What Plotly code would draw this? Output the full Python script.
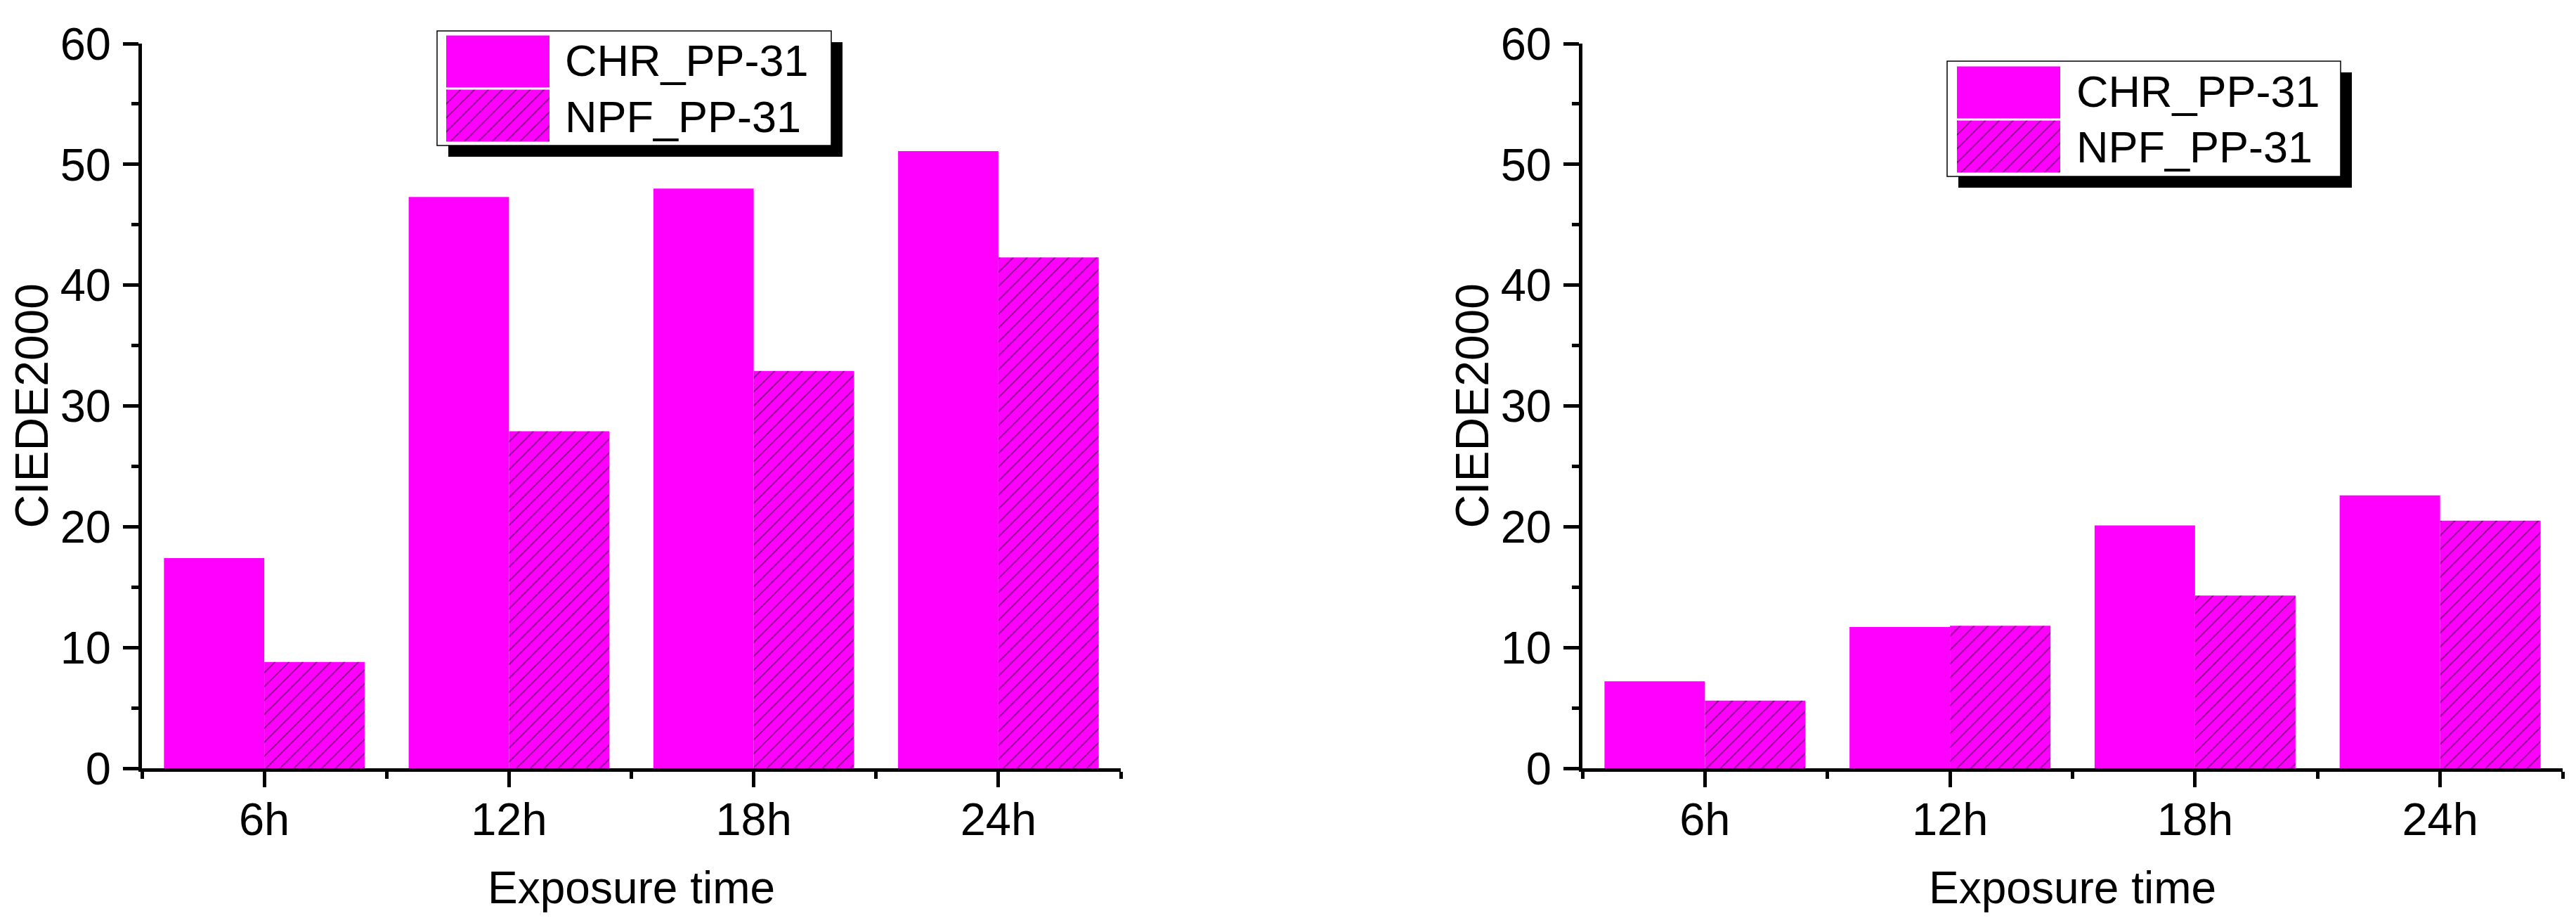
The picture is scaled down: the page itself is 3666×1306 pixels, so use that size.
import plotly.graph_objects as go

W, H = 3666, 1306

# ---- data ----
categories = ["6h", "12h", "18h", "24h"]
series_names = ["CHR_PP-31", "NPF_PP-31"]
left_chr = [17.4, 47.3, 48.0, 51.1]
left_npf = [8.8, 27.9, 32.9, 42.3]
right_chr = [7.2, 11.7, 20.1, 22.6]
right_npf = [5.6, 11.8, 14.3, 20.5]
y_ticks = [0, 10, 20, 30, 40, 50, 60]
x_title = "Exposure time"
y_title = "CIEDE2000"

FONT = "Liberation Sans, Arial, sans-serif"
MAGENTA = "#FF00FF"


def px(p):
    return p / W


def py(p):
    return 1 - p / H


hatch = dict(shape="/", fgcolor="black", bgcolor=MAGENTA, size=14,
             solidity=0.12, fillmode="overlay")

fig = go.Figure()

panels = [
    dict(chr=left_chr, npf=left_npf, xa="x", ya="y", x0=202, x1=1595,
         leg=dict(box=(622, 44, 1183, 207), sw=(635, 49, 782, 203), tx=802, ty=(86, 166)),
         ytitle_x=44),
    dict(chr=right_chr, npf=right_npf, xa="x2", ya="y2", x0=2252, x1=3647,
         leg=dict(box=(2771, 87, 3331, 251), sw=(2785, 93, 2932, 247), tx=2953, ty=(130, 209)),
         ytitle_x=2094),
]
Y_TOP, Y_BOT = 62, 1093

shapes = []
annotations = []

for i, p in enumerate(panels):
    fig.add_trace(go.Bar(x=categories, y=p["chr"], name=series_names[0],
                         marker=dict(color=MAGENTA, line=dict(width=0)),
                         xaxis=p["xa"], yaxis=p["ya"], showlegend=False))
    fig.add_trace(go.Bar(x=categories, y=p["npf"], name=series_names[1],
                         marker=dict(color=MAGENTA, line=dict(width=0), pattern=hatch),
                         xaxis=p["xa"], yaxis=p["ya"], showlegend=False))

    n = 2 * i + 3
    sfx = str(n)
    # legend swatches (drawn as a tiny horizontal bar chart on its own axes)
    fig.add_trace(go.Bar(y=series_names, x=[1, 1], orientation="h",
                         width=0.96,
                         marker=dict(color=MAGENTA, line=dict(width=0),
                                     pattern=dict(shape=["", "/"], fgcolor="black",
                                                  bgcolor=MAGENTA, size=14,
                                                  solidity=0.12, fillmode="overlay")),
                         xaxis="x" + sfx, yaxis="y" + sfx, showlegend=False,
                         hoverinfo="skip"))

    bx0, by0, bx1, by1 = p["leg"]["box"]
    shapes.append(dict(type="rect", xref="paper", yref="paper",
                       x0=px(bx0 + 16), x1=px(bx1 + 16), y0=py(by0 + 16), y1=py(by1 + 16),
                       fillcolor="black", line=dict(width=0), layer="below"))
    shapes.append(dict(type="rect", xref="paper", yref="paper",
                       x0=px(bx0), x1=px(bx1), y0=py(by0), y1=py(by1),
                       fillcolor="white", line=dict(color="black", width=1.5), layer="below"))
    for name, ty in zip(series_names, p["leg"]["ty"]):
        annotations.append(dict(text=name, xref="paper", yref="paper",
                                x=px(p["leg"]["tx"]), y=py(ty), xanchor="left", yanchor="middle",
                                showarrow=False, font=dict(family=FONT, size=63, color="black")))
    # axis titles
    annotations.append(dict(text=x_title, xref="paper", yref="paper",
                            x=px((p["x0"] + p["x1"]) / 2), y=py(1263),
                            xanchor="center", yanchor="middle", showarrow=False,
                            font=dict(family=FONT, size=64, color="black")))
    annotations.append(dict(text=y_title, xref="paper", yref="paper",
                            x=px(p["ytitle_x"]), y=py((Y_TOP + Y_BOT) / 2),
                            xanchor="center", yanchor="middle", textangle=-90, showarrow=False,
                            font=dict(family=FONT, size=66, color="black")))

layout = dict(
    template="none",
    width=W, height=H, margin=dict(l=0, r=0, t=0, b=0, pad=0, autoexpand=False),
    paper_bgcolor="white", plot_bgcolor="rgba(0,0,0,0)",
    barmode="group", bargap=0.18, bargroupgap=0,
    font=dict(family=FONT, size=65, color="black"),
    shapes=shapes, annotations=annotations, showlegend=False,
)

for i, p in enumerate(panels):
    xn = "xaxis" if i == 0 else "xaxis2"
    yn = "yaxis" if i == 0 else "yaxis2"
    layout[xn] = dict(
        domain=[px(p["x0"]), px(p["x1"])], anchor=p["ya"], type="category",
        range=[-0.5, 3.5], showline=True, linewidth=5, linecolor="black",
        ticks="outside", ticklen=22, tickwidth=5, tickcolor="black",
        tickfont=dict(family=FONT, size=65, color="black"),
        ticklabelstandoff=-10,
        minor=dict(tickvals=[-0.5, 0.5, 1.5, 2.5, 3.5], ticks="outside", ticklen=10,
                   tickwidth=5, tickcolor="black"),
        showgrid=False, zeroline=False, fixedrange=True, automargin=False,
    )
    layout[yn] = dict(
        domain=[py(Y_BOT), py(Y_TOP)], anchor=p["xa"], range=[0, 60],
        tickmode="array", tickvals=y_ticks,
        showline=True, linewidth=5, linecolor="black",
        ticks="outside", ticklen=22, tickwidth=5, tickcolor="black",
        tickfont=dict(family=FONT, size=65, color="black"),
        ticklabelstandoff=4,
        minor=dict(dtick=5, ticks="outside", ticklen=10, tickwidth=5, tickcolor="black"),
        showgrid=False, zeroline=False, fixedrange=True, automargin=False,
    )
    n = 2 * i + 3
    sx0, sy0, sx1, sy1 = p["leg"]["sw"]
    layout["xaxis" + str(n)] = dict(domain=[px(sx0), px(sx1)], anchor="y" + str(n),
                                    range=[0, 1], visible=False, fixedrange=True,
                                    automargin=False)
    layout["yaxis" + str(n)] = dict(domain=[py(sy1), py(sy0)], anchor="x" + str(n),
                                    type="category", autorange="reversed",
                                    visible=False, fixedrange=True, automargin=False)

fig.update_layout(**layout)
fig.write_html("out.html", config={"displayModeBar": False, "staticPlot": False},
               post_script="document.body.style.margin='0';document.body.style.overflow='hidden';")
